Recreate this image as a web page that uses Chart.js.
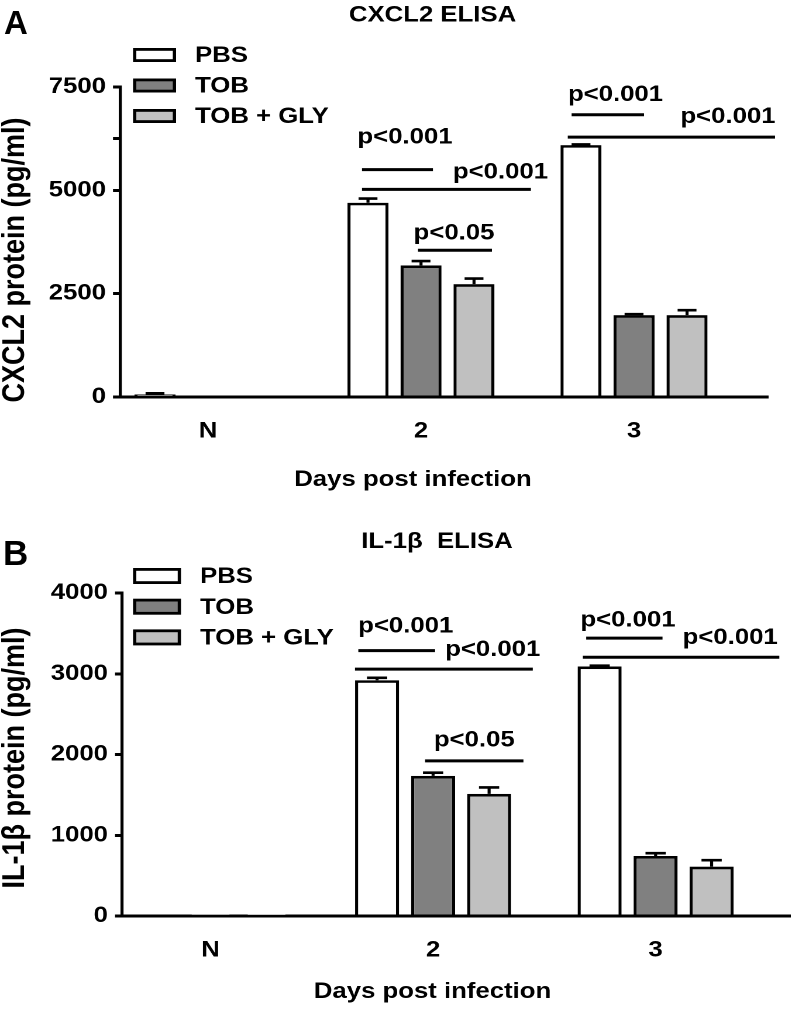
<!DOCTYPE html>
<html><head><meta charset="utf-8">
<script src="https://cdn.jsdelivr.net/npm/chart.js@4/dist/chart.umd.min.js"></script>
<style>
html,body{margin:0;padding:0;background:#fff;}
body{width:792px;height:1009px;position:relative;overflow:hidden;font-family:"Liberation Sans",Arial,sans-serif;}
.wrap{position:absolute;left:0;width:677px;transform:scaleX(1.16987);transform-origin:0 0;}
#wa{top:0;height:500px;} #wb{top:500px;height:509px;}
.plabel{position:absolute;font-weight:bold;line-height:1;color:#000;}
</style></head><body>
<div class="wrap" id="wa"><canvas id="ca"></canvas></div>
<div class="wrap" id="wb"><canvas id="cb"></canvas></div>
<div class="plabel" style="left:4px;top:5.7px;font-size:33px">A</div>
<div class="plabel" style="left:3px;top:534.7px;font-size:35px">B</div>
<script>
// ---------- data ----------
const categories = ['N', '2', '3'];
const seriesNames = ['PBS', 'TOB', 'TOB + GLY'];
const seriesColors = ['#ffffff', '#808080', '#c0c0c0'];

const cxcl2PBS = [60, 4700, 6095];
const cxcl2TOB = [0, 3185, 1980];
const cxcl2GLY = [0, 2730, 1980];
const cxcl2PBSErr = [30, 100, 15];
const cxcl2TOBErr = [0, 105, 25];
const cxcl2GLYErr = [0, 135, 120];
const cxcl2Ticks = [0, 2500, 5000, 7500];
const cxcl2MinorTicks = [6250];

const il1bPBS = [0, 2920, 3090];
const il1bTOB = [8, 1735, 743];
const il1bGLY = [10, 1512, 611];
const il1bPBSErr = [0, 30, 10];
const il1bTOBErr = [0, 40, 35];
const il1bGLYErr = [0, 80, 80];
const il1bTicks = [0, 1000, 2000, 3000, 4000];

// significance brackets (x in category units, y in pg/ml)
const cxcl2Sig = [
  {label:'p<0.001', x0:0.723, x1:1.056, y:5500, lx:0.925, ly:6128},
  {label:'p<0.001', x0:0.723, x1:1.516, y:5024, lx:1.373, ly:5283},
  {label:'p<0.05',  x0:0.986, x1:1.333, y:3550, lx:1.155, ly:3809},
  {label:'p<0.001', x0:1.707, x1:2.047, y:6828, lx:1.913, ly:7157},
  {label:'p<0.001', x0:1.689, x1:2.662, y:6288, lx:2.441, ly:6626}
];
const il1bSig = [
  {label:'p<0.001', x0:0.664, x1:1.009, y:3287, lx:0.877, ly:3511},
  {label:'p<0.001', x0:0.649, x1:1.448, y:3057, lx:1.268, ly:3222},
  {label:'p<0.05',  x0:0.964, x1:1.406, y:1921, lx:1.185, ly:2098},
  {label:'p<0.001', x0:1.688, x1:2.031, y:3441, lx:1.876, ly:3585},
  {label:'p<0.001', x0:1.673, x1:2.556, y:3205, lx:2.335, ly:3367}
];

// ---------- helpers ----------
const FONT = '"Liberation Sans", Arial, Helvetica, sans-serif';
Chart.defaults.font.family = FONT;
Chart.defaults.font.weight = 'bold';
Chart.defaults.font.size = 22;
Chart.defaults.color = '#000';

const errorBars = {
  id: 'errbars',
  afterDatasetsDraw(chart) {
    const ctx = chart.ctx, ys = chart.scales.y;
    chart.data.datasets.forEach((ds, di) => {
      const meta = chart.getDatasetMeta(di);
      meta.data.forEach((bar, i) => {
        const e = ds.errors[i];
        if (!e) return;
        const v = ds.data[i].y;
        const yTop = ys.getPixelForValue(v + e);
        const yBar = ys.getPixelForValue(v);
        const half = bar.width * 0.23;
        ctx.save();
        ctx.strokeStyle = '#000'; ctx.lineWidth = 2.6;
        ctx.beginPath();
        ctx.moveTo(bar.x, yBar); ctx.lineTo(bar.x, yTop);
        ctx.moveTo(bar.x - half, yTop); ctx.lineTo(bar.x + half, yTop);
        ctx.stroke();
        ctx.restore();
      });
    });
  }
};

const sigPlugin = {
  id: 'sig',
  afterDatasetsDraw(chart, args, opts) {
    const ctx = chart.ctx, xs = chart.scales.x, ys = chart.scales.y;
    ctx.save();
    ctx.strokeStyle = '#000'; ctx.fillStyle = '#000'; ctx.lineWidth = 3;
    ctx.font = 'bold 22px ' + FONT;
    ctx.textAlign = 'center'; ctx.textBaseline = 'alphabetic';
    (opts.items || []).forEach(b => {
      const y = ys.getPixelForValue(b.y);
      ctx.beginPath();
      ctx.moveTo(xs.getPixelForValue(b.x0), y);
      ctx.lineTo(xs.getPixelForValue(b.x1), y);
      ctx.stroke();
      ctx.fillText(b.label, xs.getPixelForValue(b.lx), ys.getPixelForValue(b.ly));
    });
    ctx.restore();
  }
};

const legendPlugin = {
  id: 'boxlegend',
  afterDraw(chart, args, o) {
    const ctx = chart.ctx;
    ctx.save();
    ctx.font = 'bold 22px ' + FONT;
    ctx.textAlign = 'left'; ctx.textBaseline = 'middle';
    chart.data.datasets.forEach((ds, i) => {
      const cy = o.y0 + i * o.dy;
      const lw = 2.8;
      ctx.fillStyle = ds.backgroundColor;
      ctx.strokeStyle = '#000'; ctx.lineWidth = lw;
      ctx.fillRect(o.x + lw / 2, cy - o.h / 2 + lw / 2, o.w - lw, o.h - lw);
      ctx.strokeRect(o.x + lw / 2, cy - o.h / 2 + lw / 2, o.w - lw, o.h - lw);
      ctx.fillStyle = '#000';
      ctx.fillText(ds.label, o.tx, cy + 1);
    });
    ctx.restore();
  }
};

const textPlugin = {
  id: 'texts',
  afterDraw(chart, args, o) {
    const ctx = chart.ctx;
    (o.items || []).forEach(t => {
      ctx.save();
      ctx.fillStyle = '#000';
      ctx.font = 'bold ' + t.size + 'px ' + FONT;
      ctx.textAlign = 'center';
      ctx.translate(t.x, t.y);
      if (t.rotate) { ctx.rotate(-Math.PI / 2); ctx.textBaseline = 'middle'; }
      else ctx.textBaseline = 'alphabetic';
      ctx.fillText(t.text, 0, 0);
      ctx.restore();
    });
  }
};

function makeChart(id, c) {
  const sets = [c.pbs, c.tob, c.gly];
  const errs = [c.pbsErr, c.tobErr, c.glyErr];
  const datasets = sets.map((arr, si) => ({
    label: seriesNames[si],
    data: categories.map((cat, i) => ({x: i, y: arr[i]})),
    errors: errs[si],
    backgroundColor: seriesColors[si],
    borderColor: '#000',
    borderWidth: 2.7,
    borderSkipped: 'start',
    categoryPercentage: c.catPct,
    barPercentage: c.barPct
  }));
  const allTicks = c.ticks.concat(c.minor || []).sort((a, b) => a - b);
  return new Chart(document.getElementById(id), {
    type: 'bar',
    data: { datasets },
    plugins: [errorBars, sigPlugin, legendPlugin, textPlugin],
    options: {
      responsive: true, maintainAspectRatio: false, animation: false,
      devicePixelRatio: 2, events: [],
      layout: { padding: c.pad },
      scales: {
        x: {
          type: 'linear', min: c.xmin, max: c.xmax, offset: false,
          afterBuildTicks: s => { s.ticks = categories.map((cat, i) => ({value: i})); },
          afterFit: s => { s.height = c.xh; },
          ticks: { callback: v => categories[v] ?? '', padding: 21, maxRotation: 0, autoSkip: false, color: '#000' },
          grid: { display: false, drawTicks: false, offset: false },
          border: { display: true, color: '#000', width: 3 }
        },
        y: {
          min: c.ticks[0], max: c.ticks[c.ticks.length - 1],
          afterBuildTicks: s => { s.ticks = allTicks.map(v => ({value: v})); },
          afterFit: s => { s.width = c.yw; },
          ticks: { callback: v => c.ticks.includes(v) ? String(v) : '', padding: 6, color: '#000' },
          grid: { drawOnChartArea: false, drawTicks: true, tickLength: 6, color: '#000', lineWidth: 3 },
          border: { display: true, color: '#000', width: 2.6 }
        }
      },
      plugins: {
        legend: { display: false },
        tooltip: { enabled: false },
        sig: { items: c.sig },
        boxlegend: c.legend,
        texts: { items: c.texts }
      }
    }
  });
}

makeChart('ca', {
  pbs: cxcl2PBS, tob: cxcl2TOB, gly: cxcl2GLY,
  pbsErr: cxcl2PBSErr, tobErr: cxcl2TOBErr, glyErr: cxcl2GLYErr,
  ticks: cxcl2Ticks, minor: cxcl2MinorTicks, sig: cxcl2Sig,
  xmin: -0.413, xmax: 2.629, catPct: 0.7465, barPct: 0.774,
  pad: {left: 0, top: 87, right: 20.52, bottom: 0}, xh: 103, yw: 102.58,
  legend: {x: 113.7, w: 36.8, h: 14, y0: 55, dy: 30.5, tx: 166.7},
  texts: [
    {text: 'CXCL2 ELISA', x: 369.7, y: 21.5, size: 22},
    {text: 'Days post infection', x: 353, y: 486, size: 22},
    {text: 'CXCL2 protein (pg/ml)', x: 12.8, y: 260, size: 27, rotate: true}
  ]
});

makeChart('cb', {
  pbs: il1bPBS, tob: il1bTOB, gly: il1bGLY,
  pbsErr: il1bPBSErr, tobErr: il1bTOBErr, glyErr: il1bGLYErr,
  ticks: il1bTicks, minor: [], sig: il1bSig,
  xmin: -0.398, xmax: 2.604, catPct: 0.755, barPct: 0.786,
  pad: {left: 0, top: 93, right: 1.71, bottom: 0}, xh: 93, yw: 104.29,
  legend: {x: 113.7, w: 41, h: 16, y0: 76, dy: 30.7, tx: 171},
  texts: [
    {text: 'IL-1\u03B2  ELISA', x: 373.5, y: 48, size: 22},
    {text: 'Days post infection', x: 369.7, y: 498, size: 22},
    {text: 'IL-1\u03B2 protein (pg/ml)', x: 12.8, y: 258, size: 27, rotate: true}
  ]
});
</script>
</body></html>
